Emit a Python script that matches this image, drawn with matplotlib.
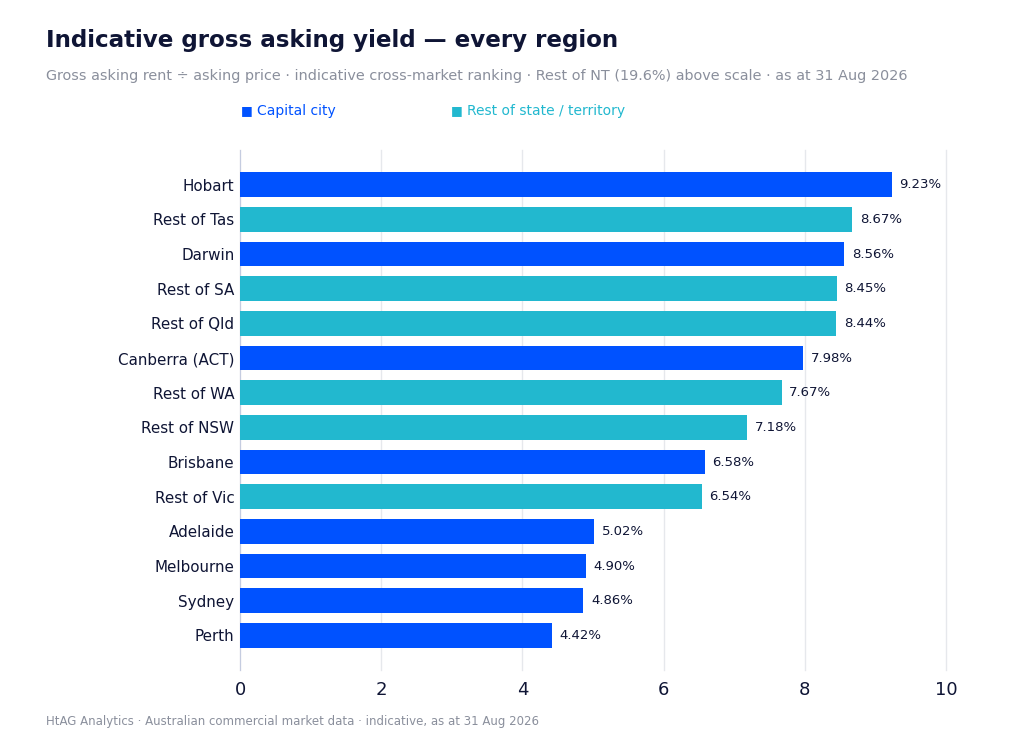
import matplotlib.pyplot as plt
import numpy as np

# Data
regions = ['Hobart', 'Rest of Tas', 'Darwin', 'Rest of SA', 'Rest of Qld',
           'Canberra (ACT)', 'Rest of WA', 'Rest of NSW', 'Brisbane', 'Rest of Vic',
           'Adelaide', 'Melbourne', 'Sydney', 'Perth']
yields = [9.23, 8.67, 8.56, 8.45, 8.44, 7.98, 7.67, 7.18, 6.58, 6.54, 5.02, 4.90, 4.86, 4.42]
is_capital = [True, False, True, False, False, True, False, False, True, False,
              True, True, True, True]

capital_color = '#0052FF'
rest_color = '#22B8CF'
navy = '#0F1535'
grey = '#8A8F9C'

fig = plt.figure(figsize=(10.24, 7.47), dpi=100)
ax = fig.add_axes([240 / 1024, 1 - 670 / 747, 706 / 1024, 520 / 747])

y_pos = np.arange(len(regions))
colors = [capital_color if c else rest_color for c in is_capital]
ax.barh(y_pos, yields, height=0.72, color=colors, zorder=3)

for y, v in zip(y_pos, yields):
    ax.text(v + 0.11, y, f'{v:.2f}%', va='center', ha='left', fontsize=9.5, color=navy)

ax.set_xlim(0, 10)
ax.set_ylim(len(regions), -1)
ax.set_xticks([0, 2, 4, 6, 8, 10])
ax.set_yticks(y_pos)
ax.set_yticklabels(regions)
ax.tick_params(axis='x', length=0, labelsize=13, colors=navy, pad=8)
ax.tick_params(axis='y', length=0, labelsize=10.9, colors=navy, pad=4)
ax.grid(axis='x', color='#E6E8EC', linewidth=1, zorder=0)
for line in ax.get_xgridlines():
    line.set_clip_on(False)
for side in ['top', 'right', 'bottom']:
    ax.spines[side].set_visible(False)
ax.spines['left'].set_color('#C5CCE0')

# Titles
fig.text(46 / 1024, 1 - 41 / 747, 'Indicative gross asking yield \u2014 every region',
         fontsize=16.6, fontweight='bold', color=navy, va='center')
fig.text(46 / 1024, 1 - 76 / 747,
         'Gross asking rent \u00f7 asking price \u00b7 indicative cross-market ranking \u00b7 '
         'Rest of NT (19.6%) above scale \u00b7 as at 31 Aug 2026',
         fontsize=10.4, color=grey, va='center')

# Legend as coloured text
fig.text(241 / 1024, 1 - 111 / 747, '\u25a0', fontsize=9, color=capital_color, va='center')
fig.text(257 / 1024, 1 - 111 / 747, 'Capital city', fontsize=10, color=capital_color, va='center')
fig.text(451 / 1024, 1 - 111 / 747, '\u25a0', fontsize=9, color=rest_color, va='center')
fig.text(467 / 1024, 1 - 111 / 747, 'Rest of state / territory', fontsize=10, color=rest_color, va='center')

# Footer
fig.text(46 / 1024, 1 - 722 / 747,
         'HtAG Analytics \u00b7 Australian commercial market data \u00b7 indicative, as at 31 Aug 2026',
         fontsize=8.5, color=grey, va='center')

plt.savefig('out.png', dpi=100)
plt.close()
